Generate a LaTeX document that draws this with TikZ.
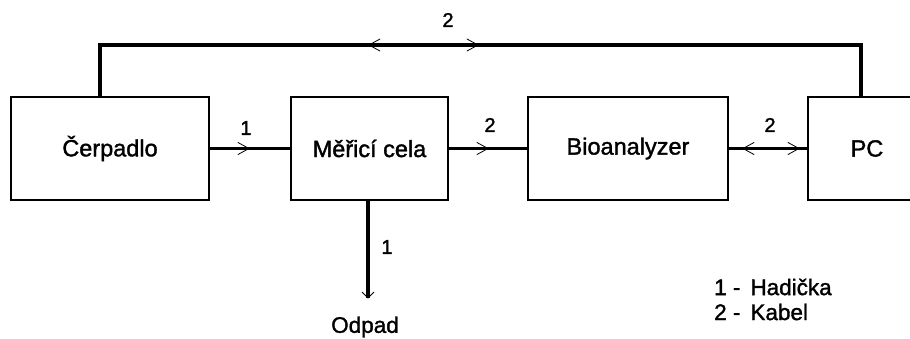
\documentclass[tikz,border=0pt]{standalone}
\usepackage{fontspec}
\setmainfont{Liberation Sans}
\newfontfamily\heavysans{Liberation Sans}[FakeBold=1.5]
\usetikzlibrary{decorations.markings}
\begin{document}
\begin{tikzpicture}[x=1pt,y=-1pt,
  box/.style={draw, line width=2pt, minimum height=103pt, inner sep=0pt,
    font=\heavysans\fontsize{23.5}{28}\selectfont},
  link/.style={line width=3.5pt},
  lbl/.style={font=\heavysans\fontsize{20}{24}\selectfont, inner sep=0pt},
  note/.style={font=\heavysans\fontsize{22.5}{27}\selectfont, inner sep=0pt},
  chev/.pic={\draw[line width=0.8pt, line cap=round, line join=miter] (-11,-6) -- (0,0) -- (-11,6);},
  fwd/.style={postaction={decorate, decoration={markings,
    mark=at position #1 with {\pic{chev};}}}},
  bwd/.style={postaction={decorate, decoration={markings,
    mark=at position #1 with {\pic[rotate=180]{chev};}}}},
]
\useasboundingbox (0,0) rectangle (910,338);

% blocks
\node[box, minimum width=198pt] (cerp) at (110,148.5) {Čerpadlo};
\node[box, minimum width=157pt] (cela) at (369.5,148.5) {Měřicí cela};
\node[box, minimum width=200pt] (bio)  at (628,148.5) {Bioanalyzer};
\node[box, minimum width=118pt] (pc)   at (867,148.5) {PC};

% attachment points of the upper cable
\coordinate (cup) at ([xshift=-10pt]cerp.north);
\coordinate (pup) at ([xshift=-6pt]pc.north);
\coordinate (drain) at (368,298);

% connections
\draw[link, fwd=39pt] (cerp.east) -- (cela.west);
\draw[link, fwd=39pt] (cela.east) -- (bio.west);
\draw[link, bwd=14pt, fwd=70pt] (bio.east) -- (pc.west);
\draw[link, bwd=320pt, fwd=429pt] (cup) |- (460,45) -| (pup);
\draw[link] (cela.south -| drain) -- (drain);
\draw[line width=0.8pt] (drain) ++(-6,-6) -- (drain) -- ++(6,-6);

% line labels
\node[lbl] at (246,128) {1};
\node[lbl] at (490,125) {2};
\node[lbl] at (770,125) {2};
\node[lbl] at (448,20) {2};
\node[lbl] at (387,247) {1};

% outlet and legend
\node[note] (odpad) at (365,327) {Odpad};
\node[note, anchor=west] (leg1) at (714,287) {1 -\, Hadička};
\node[note, anchor=west] (leg2) at (714,312) {2 -\, Kabel};
\end{tikzpicture}
\end{document}
